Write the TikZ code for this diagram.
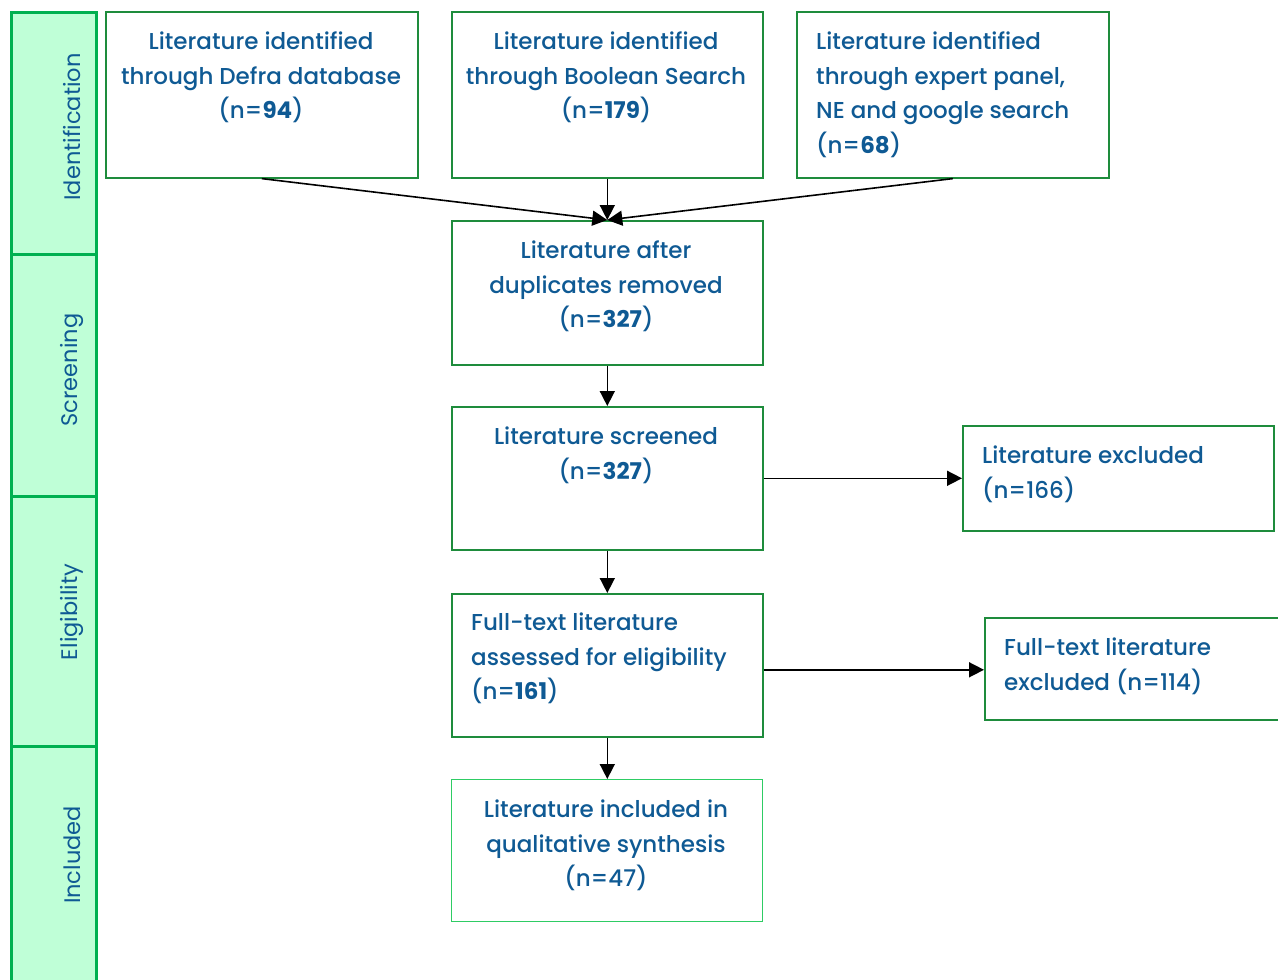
\documentclass[tikz,border=0pt]{standalone}
\usepackage{fontspec}
\setmainfont{Poppins}[UprightFont=* Medium, BoldFont=* Bold]
\newfontfamily\lanefont{Poppins}
\usetikzlibrary{arrows.meta,calc}
\definecolor{txtblue}{HTML}{0F5A94}
\definecolor{boxgreen}{HTML}{1E8C3C}
\definecolor{lanegreen}{HTML}{00B050}
\definecolor{lanefill}{HTML}{BFFFD7}
\definecolor{lightgreen}{HTML}{2ECC64}
\tikzset{
  box/.style={draw=boxgreen, line width=1.6pt, fill=white, rectangle, inner sep=0pt, anchor=north west},
  lane/.style={draw=lanegreen, line width=2.6pt, fill=lanefill, rectangle, inner sep=0pt, anchor=north west, minimum width=85pt},
  txt/.style={text=txtblue, font=\fontsize{23pt}{34.5pt}\selectfont, inner sep=0pt, anchor=north},
  lanetxt/.style={text=txtblue, font=\lanefont\fontsize{22.5pt}{24pt}\selectfont, inner sep=0pt, rotate=90},
  arr/.style={draw=black, line width=1.6pt, -{Triangle[length=15pt,width=15pt]}},
}
\begin{document}
\begin{tikzpicture}[x=1pt,y=-1pt]
\clip (0,0) rectangle (1278,980);
\fill[white] (0,0) rectangle (1278,980);
% lanes
\node[lane, minimum height=242pt] (L1) at (10,11) {};
\node[lane, minimum height=242pt] (L2) at (10,253) {};
\node[lane, minimum height=250pt] (L3) at (10,495) {};
\node[lane, minimum height=245pt] (L4) at (10,745) {};
\node[lanetxt] (T1) at (72,127) {Identification};
\node[lanetxt] (T2) at (72,370) {Screening};
\node[lanetxt] (T3) at (72,612) {Eligibility};
\node[lanetxt] (T4) at (72,855) {Included};
% boxes
\node[box, minimum width=312pt, minimum height=166pt] (A) at (105,11) {};
\node[box, minimum width=311pt, minimum height=166pt] (B) at (451,11) {};
\node[box, minimum width=312pt, minimum height=166pt] (C) at (796,11) {};
\node[box, minimum width=311pt, minimum height=144pt] (D) at (451,220) {};
\node[box, minimum width=311pt, minimum height=143pt] (E) at (451,406) {};
\node[box, minimum width=311pt, minimum height=105pt] (F) at (962,425) {};
\node[box, minimum width=311pt, minimum height=143pt] (G) at (451,593) {};
\node[box, minimum width=320pt, minimum height=102pt] (H) at (984,617) {};
\node[box, draw=lightgreen, line width=1pt, minimum width=311pt, minimum height=142pt] (I) at (451,779) {};
% texts
\node[txt, align=center] (tA) at (261,32) {Literature identified\\through Defra database\\(n=\textbf{94})};
\node[txt, align=center] (tB) at (606,32) {Literature identified\\through Boolean Search\\(n=\textbf{179})};
\node[txt, align=left, anchor=north west] (tC) at (816,32) {Literature identified\\through expert panel,\\NE and google search\\(n=\textbf{68})};
\node[txt, align=center] (tD) at (606,241) {Literature after\\duplicates removed\\(n=\textbf{327})};
\node[txt, align=center] (tE) at (606,427) {Literature screened\\(n=\textbf{327})};
\node[txt, align=left, anchor=north west] (tF) at (982,446) {Literature excluded\\(n=166)};
\node[txt, align=left, anchor=north west] (tG) at (471,613) {Full-text literature\\assessed for eligibility\\(n=\textbf{161})};
\node[txt, align=left, anchor=north west] (tH) at (1004,638) {Full-text literature\\excluded (n=114)};
\node[txt, align=center] (tI) at (606,800) {Literature included in\\qualitative synthesis\\(n=47)};
% connectors
\draw[arr] (A.south) -- (D.north);
\draw[arr] (B.south) -- (D.north);
\draw[arr] (C.south) -- (D.north);
\draw[arr] (D.south) -- (E.north);
\draw[arr] (E.south) -- (G.north);
\draw[arr] (G.south) -- (G.south |- I.north);
\draw[arr] (E.east) -- (F.west |- E.east);
\draw[arr] ($(G.east)+(0,4.5)$) -- (H.west |- {$(G.east)+(0,4.5)$});
\end{tikzpicture}
\end{document}
